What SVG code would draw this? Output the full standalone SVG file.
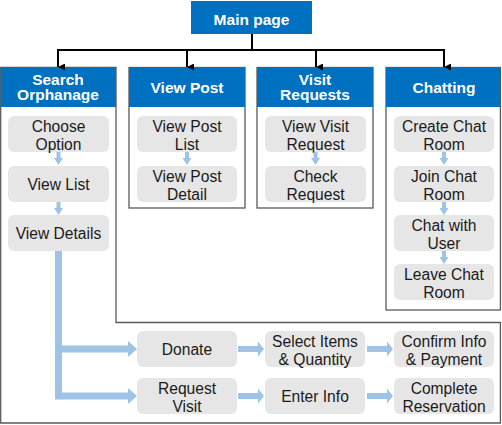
<svg xmlns="http://www.w3.org/2000/svg" width="502" height="425" viewBox="0 0 502 425">
<style>
.panel{fill:#fff;stroke:#5a5a5a;stroke-width:1.3}
.hdr{fill:#0070C0}
.ht{font-family:"Liberation Sans",Arial,sans-serif;font-weight:bold;font-size:15.5px;fill:#fff;text-anchor:middle}
.box{fill:#E7E6E6}
.bt{font-family:"Liberation Sans",Arial,sans-serif;font-size:15.6px;fill:#1a1a1a;text-anchor:middle}
.blk{fill:none;stroke:#000;stroke-width:2}
.lb{fill:#9DC3E6}
.lbl{fill:none;stroke:#9DC3E6;stroke-width:7}
</style>
<defs>
<marker id="ah" markerUnits="userSpaceOnUse" markerWidth="7" markerHeight="7" viewBox="0 0 7 7" refX="3.5" refY="7" orient="auto-start-reverse">
<path d="M0,0 L7,0 L3.5,7 Z" fill="#000"/>
</marker>
<polygon id="dn" points="-2,0 2,0 2,6 4.5,6 0,13 -4.5,6 -2,6"/>
<polygon id="rt" points="0,-3 20,-3 20,-7.5 26,0 20,7.5 20,3 0,3"/>
</defs>

<g id="main-page">
<rect x="191" y="1" width="121" height="33" class="hdr"/>
<text x="251.5" y="24.5" class="ht">Main page</text>
</g>

<g id="search-orphanage">
<path d="M0.7,67.5 H116 V322.5 H500.4 V423 H0.7 Z" class="panel"/>
<rect x="0.7" y="67.5" width="115.3" height="39.5" class="hdr"/>
<text x="58" y="84.5" class="ht">Search</text>
<text x="58" y="100" class="ht">Orphanage</text>
<g id="choose-option"><rect x="8" y="116" width="101" height="36" rx="6" class="box"/><text x="58.5" y="131.5" class="bt">Choose</text><text x="58.5" y="149.5" class="bt">Option</text></g>
<g id="view-list"><rect x="8" y="166" width="101" height="36" rx="6" class="box"/><text x="58.5" y="189.5" class="bt">View List</text></g>
<g id="view-details"><rect x="8" y="215" width="101" height="36" rx="6" class="box"/><text x="58.5" y="238.5" class="bt">View Details</text></g>
</g>

<g id="view-post">
<rect x="129" y="67.5" width="116" height="140.5" class="panel"/>
<rect x="129" y="67.5" width="116" height="39.5" class="hdr"/>
<text x="187" y="92.5" class="ht">View Post</text>
<g id="view-post-list"><rect x="137" y="116" width="100" height="36" rx="6" class="box"/><text x="187" y="131.5" class="bt">View Post</text><text x="187" y="149.5" class="bt">List</text></g>
<g id="view-post-detail"><rect x="137" y="166" width="100" height="36" rx="6" class="box"/><text x="187" y="181.5" class="bt">View Post</text><text x="187" y="199.5" class="bt">Detail</text></g>
</g>

<g id="visit-requests">
<rect x="257" y="67.5" width="116" height="140.5" class="panel"/>
<rect x="257" y="67.5" width="116" height="39.5" class="hdr"/>
<text x="315" y="84.5" class="ht">Visit</text>
<text x="315" y="100" class="ht">Requests</text>
<g id="view-visit-request"><rect x="265" y="116" width="101" height="36" rx="6" class="box"/><text x="315.5" y="131.5" class="bt">View Visit</text><text x="315.5" y="149.5" class="bt">Request</text></g>
<g id="check-request"><rect x="265" y="166" width="101" height="36" rx="6" class="box"/><text x="315.5" y="181.5" class="bt">Check</text><text x="315.5" y="199.5" class="bt">Request</text></g>
</g>

<g id="chatting">
<rect x="386" y="67.5" width="114.4" height="242.5" class="panel"/>
<rect x="386" y="67.5" width="114.4" height="39.5" class="hdr"/>
<text x="444" y="92.5" class="ht">Chatting</text>
<g id="create-chat-room"><rect x="394" y="116" width="100" height="36" rx="6" class="box"/><text x="444" y="131.5" class="bt">Create Chat</text><text x="444" y="149.5" class="bt">Room</text></g>
<g id="join-chat-room"><rect x="394" y="166" width="100" height="36" rx="6" class="box"/><text x="444" y="181.5" class="bt">Join Chat</text><text x="444" y="199.5" class="bt">Room</text></g>
<g id="chat-with-user"><rect x="394" y="215" width="100" height="36" rx="6" class="box"/><text x="444" y="230.5" class="bt">Chat with</text><text x="444" y="248.5" class="bt">User</text></g>
<g id="leave-chat-room"><rect x="394" y="264" width="100" height="36" rx="6" class="box"/><text x="444" y="279.5" class="bt">Leave Chat</text><text x="444" y="297.5" class="bt">Room</text></g>
</g>

<g id="donate"><rect x="137" y="331" width="100" height="36" rx="6" class="box"/><text x="187" y="354.5" class="bt">Donate</text></g>
<g id="select-items"><rect x="265" y="331" width="100" height="36" rx="6" class="box"/><text x="315" y="346.5" class="bt">Select Items</text><text x="315" y="364.5" class="bt">&amp; Quantity</text></g>
<g id="confirm-info"><rect x="394" y="331" width="100" height="36" rx="6" class="box"/><text x="444" y="346.5" class="bt">Confirm Info</text><text x="444" y="364.5" class="bt">&amp; Payment</text></g>
<g id="request-visit"><rect x="137" y="378" width="100" height="36" rx="6" class="box"/><text x="187" y="393.5" class="bt">Request</text><text x="187" y="411.5" class="bt">Visit</text></g>
<g id="enter-info"><rect x="265" y="378" width="100" height="36" rx="6" class="box"/><text x="315" y="401.5" class="bt">Enter Info</text></g>
<g id="complete-reservation"><rect x="394" y="378" width="100" height="36" rx="6" class="box"/><text x="444" y="393.5" class="bt">Complete</text><text x="444" y="411.5" class="bt">Reservation</text></g>

<g id="connectors">
<path d="M252,34 V50 M58,50 H444" class="blk"/>
<path d="M58,49 V67" class="blk" marker-end="url(#ah)"/>
<path d="M187,49 V67" class="blk" marker-end="url(#ah)"/>
<path d="M316,49 V67" class="blk" marker-end="url(#ah)"/>
<path d="M444,49 V67" class="blk" marker-end="url(#ah)"/>
<g class="lb">
<use href="#dn" x="58.5" y="152"/>
<use href="#dn" x="58.5" y="202"/>
<use href="#dn" x="187" y="152"/>
<use href="#dn" x="315.5" y="152"/>
<use href="#dn" x="444" y="152"/>
<use href="#dn" x="444" y="202"/>
<use href="#dn" x="444" y="251"/>
<use href="#rt" x="238" y="349"/>
<use href="#rt" x="367" y="349"/>
<use href="#rt" x="238" y="396"/>
<use href="#rt" x="367" y="396"/>
<polygon points="128,341 137,349 128,357"/>
<polygon points="128,388 137,396 128,404"/>
</g>
<path d="M58.5,251 V396 H128 M58.5,349 H128" class="lbl"/>
</g>
</svg>
